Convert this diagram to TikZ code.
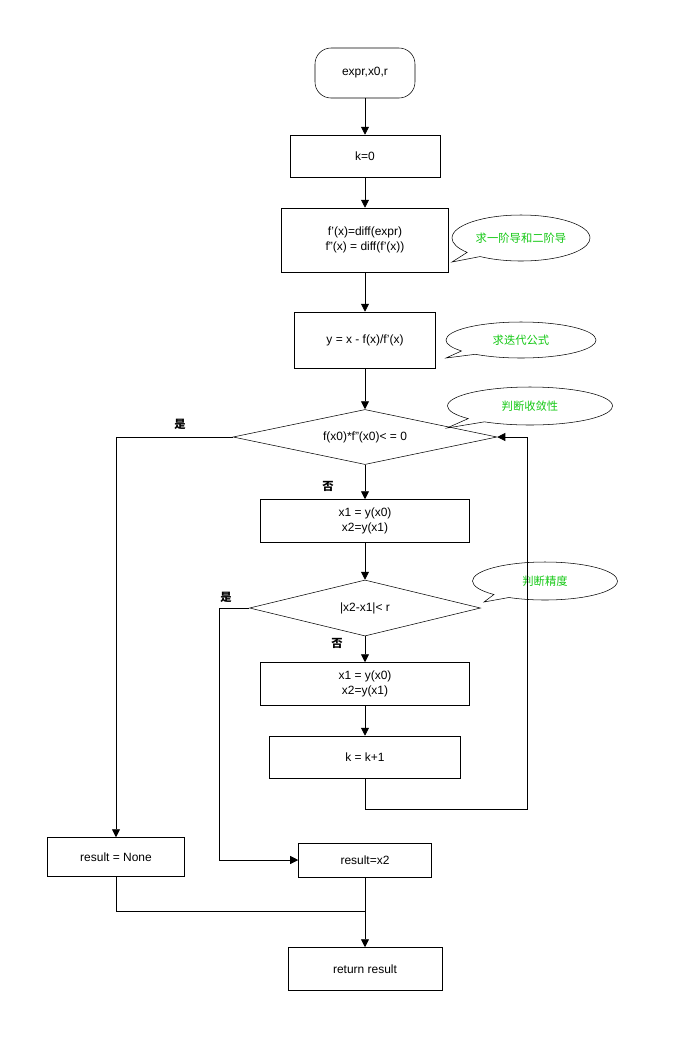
\documentclass[tikz,border=0pt]{standalone}
\usepackage{fontspec}
\setmainfont{Liberation Sans}
\newfontfamily\cjk{Noto Sans CJK SC}
\usetikzlibrary{arrows.meta, shapes.geometric, shapes.callouts, positioning}

\begin{document}
\begin{tikzpicture}[x=0.0264cm, y=-0.0264cm,
    every node/.style = {font=\fontsize{9}{11}\selectfont, align=center},
    box/.style = {draw, rectangle, inner sep=0pt},
    cond/.style = {draw, diamond, aspect=4.8, inner sep=0pt},
    note/.style = {draw, ellipse callout, font=\cjk\fontsize{8.5}{10}\selectfont, text={rgb,255:red,20;green,200;blue,20}, inner sep=0pt},
    tag/.style = {font=\cjk\bfseries\fontsize{8.5}{10}\selectfont},
    flow/.style = {-{Triangle[length=6pt,width=6pt]}, semithick},
    line/.style = {semithick}
    ]
    \useasboundingbox (0,0) rectangle (678,1053);
    \node[draw, rounded corners=12pt, minimum width=100*0.0264cm, minimum height=50*0.0264cm] (start) at (365,73) {expr,x0,r};
    \node[box, minimum width=150*0.0264cm, minimum height=42*0.0264cm] (k0) at (365,156) {k=0};
    \node[box, minimum width=167*0.0264cm, minimum height=64*0.0264cm] (diff) at (365,240) {f'(x)=diff(expr)\\f''(x) = diff(f'(x))};
    \node[box, minimum width=141*0.0264cm, minimum height=56*0.0264cm] (iter) at (365,340) {y = x - f(x)/f'(x)};
    \node[cond, minimum width=264*0.0264cm, minimum height=55*0.0264cm] (conv) at (365,437) {f(x0)*f''(x0)< = 0};
    \node[box, minimum width=209*0.0264cm, minimum height=43*0.0264cm] (step) at (365,521) {x1 = y(x0)\\x2=y(x1)};
    \node[cond, minimum width=231*0.0264cm, minimum height=56*0.0264cm] (prec) at (365,608) {|x2-x1|< r};
    \node[box, minimum width=209*0.0264cm, minimum height=43*0.0264cm] (step2) at (365,684) {x1 = y(x0)\\x2=y(x1)};
    \node[box, minimum width=191*0.0264cm, minimum height=42*0.0264cm] (inc) at (365,757) {k = k+1};
    \node[box, minimum width=137*0.0264cm, minimum height=39*0.0264cm] (none) at (116,857) {result = None};
    \node[box, minimum width=133*0.0264cm, minimum height=34*0.0264cm] (res) at (365,860) {result=x2};
    \node[box, minimum width=154*0.0264cm, minimum height=43*0.0264cm] (ret) at (365,969) {return result};
    % callouts
    \node[note, minimum width=138*0.0264cm, minimum height=46*0.0264cm, callout absolute pointer={(452,262)}] (n1) at (521,238) {求一阶导和二阶导};
    \node[note, minimum width=150*0.0264cm, minimum height=36*0.0264cm, callout absolute pointer={(446,358)}] (n2) at (521,340) {求迭代公式};
    \node[note, minimum width=165*0.0264cm, minimum height=38*0.0264cm, callout absolute pointer={(447,428)}] (n3) at (530,406) {判断收敛性};
    \node[note, minimum width=145*0.0264cm, minimum height=38*0.0264cm, callout absolute pointer={(484,602)}] (n4) at (545,581) {判断精度};
    % labels
    \node[tag] (yes1) at (180,424) {是};
    \node[tag] (no1) at (328,486) {否};
    \node[tag] (yes2) at (226,597) {是};
    \node[tag] (no2) at (337,643) {否};
    \coordinate (join) at (365,911);
    % connectors
    \draw[flow] (start) -- (k0);
    \draw[flow] (k0) -- (diff);
    \draw[flow] (diff) -- (iter);
    \draw[flow] (iter) -- (conv);
    \draw[flow] (conv) -- (step);
    \draw[flow] (step) -- (prec);
    \draw[flow] (prec) -- (step2);
    \draw[flow] (step2) -- (inc);
    \draw[flow] (conv.west) -| (none.north);
    \draw[flow] (prec.west) -- (219,608) |- (res.west);
    \draw[flow] (inc.south) -- (365,809) -- (527,809) |- (conv.east);
    \draw[line] (none.south) |- (join);
    \draw[flow] (res) -- (ret);
\end{tikzpicture}
\end{document}
